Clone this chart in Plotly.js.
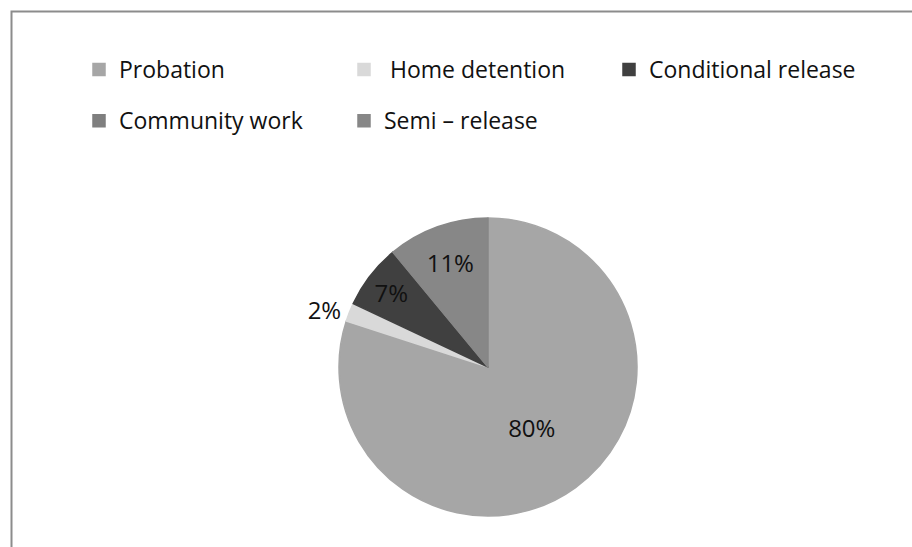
<!DOCTYPE html>
<html>
<head>
<meta charset="utf-8">
<script src="https://cdn.plot.ly/plotly-3.0.1.min.js"></script>
<style>html,body{margin:0;padding:0;background:#fff;}#chart{width:912px;height:547px;}</style>
</head>
<body>
<div id="chart"></div>
<script>
const categories = ["Probation", " Home detention", "Conditional release", "Community work", "Semi \u2013 release"];
const shares = [80, 2, 7, 0, 11];
const colors = ["#a6a6a6", "#d9d9d9", "#404040", "#7f7f7f", "#878787"];
const textPositions = ["inside", "outside", "inside", "none", "inside"];

const W = 912, H = 547;
const cx = 488, cy = 367, r = 149;

const legendLabels = categories.map(c => '<span style="font-size:23px;baseline-shift:6px">' + c + '</span>');
const pctText = shares.map(v => v > 0 ? v + '%' : '');

const trace = {
  type: 'pie',
  labels: legendLabels,
  values: shares,
  text: pctText,
  textinfo: 'text',
  textposition: textPositions,
  insidetextorientation: 'horizontal',
  sort: false,
  direction: 'clockwise',
  rotation: 0,
  marker: { colors: colors, line: { width: 1.5, color: colors } },
  textfont: { family: 'Open Sans, sans-serif', size: 24, color: '#111111' },
  outsidetextfont: { family: 'Open Sans, sans-serif', size: 24, color: '#111111' },
  automargin: false,
  showlegend: true,
  domain: { x: [(cx - r) / W, (cx + r) / W], y: [(H - cy - r) / H, (H - cy + r) / H] },
  hoverinfo: 'none'
};

const layout = {
  width: W, height: H,
  margin: { l: 0, r: 0, t: 0, b: 0 },
  paper_bgcolor: '#ffffff',
  plot_bgcolor: '#ffffff',
  font: { family: 'Open Sans, sans-serif', color: '#111111' },
  legend: {
    orientation: 'h',
    x: 79 / W, xanchor: 'left',
    y: 1 - 39 / H, yanchor: 'top',
    font: { family: 'Open Sans, sans-serif', size: 37, color: '#111111' },
    entrywidth: 220, entrywidthmode: 'pixels',
    traceorder: 'normal',
    bgcolor: 'rgba(0,0,0,0)'
  },
  shapes: [{
    type: 'rect', xref: 'paper', yref: 'paper',
    x0: 11.5 / W, x1: 1.05, y0: -0.05, y1: 1 - 11.5 / H,
    line: { color: '#8c8c8c', width: 2 }, fillcolor: 'rgba(0,0,0,0)', layer: 'below'
  }]
};

Plotly.newPlot('chart', [trace], layout, { displayModeBar: false, staticPlot: true });
</script>
</body>
</html>
